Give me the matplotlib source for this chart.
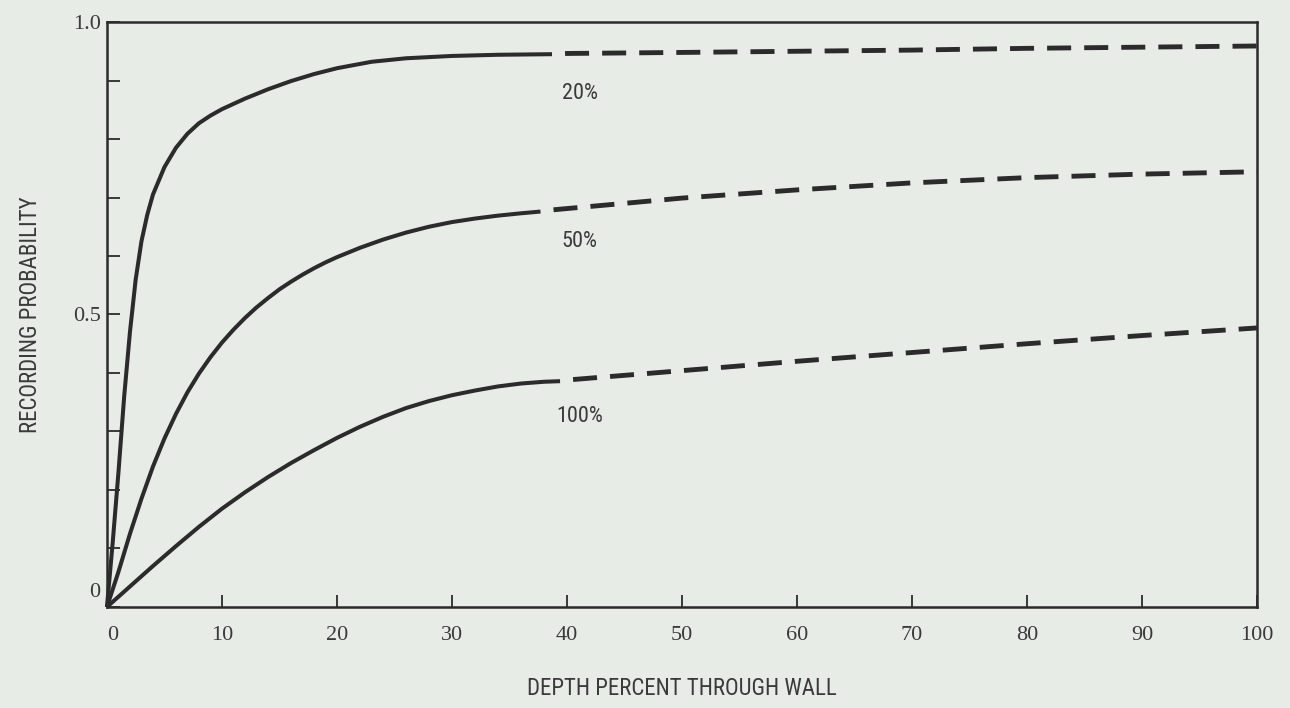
import matplotlib
matplotlib.use("Agg")
import matplotlib.pyplot as plt
from matplotlib.transforms import ScaledTranslation

# ---- data -------------------------------------------------------------
# measured (solid) portion of each curve
x_20 = [0, 0.5, 1.0, 1.5, 2.0, 2.5, 3.0, 3.5, 4.0, 5, 6, 7, 8, 9, 10, 12, 14,
        16, 18, 20, 23, 26, 30, 34, 38.7]
y_20 = [0, 0.11, 0.23, 0.36, 0.47, 0.56, 0.625, 0.67, 0.705, 0.752, 0.785,
        0.809, 0.827, 0.84, 0.851, 0.869, 0.885, 0.899, 0.911, 0.921, 0.932,
        0.938, 0.942, 0.944, 0.945]

x_50 = [0, 1, 2, 3, 4, 5, 6, 7, 8, 9, 10, 11, 12, 13, 14, 15, 16, 17, 18, 19,
        20, 22, 24, 26, 28, 30, 32, 34, 36, 37.7]
y_50 = [0, 0.06, 0.125, 0.185, 0.24, 0.288, 0.33, 0.367, 0.399, 0.427, 0.452,
        0.474, 0.494, 0.512, 0.528, 0.543, 0.556, 0.568, 0.579, 0.589, 0.598,
        0.614, 0.628, 0.64, 0.65, 0.658, 0.664, 0.669, 0.673, 0.676]

x_100 = [0, 2, 4, 6, 8, 10, 12, 14, 16, 18, 20, 22, 24, 26, 28, 30, 32, 34, 36,
         38, 39.4]
y_100 = [0, 0.035, 0.07, 0.104, 0.137, 0.168, 0.196, 0.222, 0.246, 0.268,
         0.289, 0.308, 0.325, 0.34, 0.352, 0.362, 0.37, 0.377, 0.382, 0.385,
         0.386]

# extrapolated (dashed) portion of each curve
xd_20 = [38.7, 50, 60, 70, 80, 90, 100]
yd_20 = [0.946, 0.948, 0.950, 0.952, 0.955, 0.957, 0.959]

xd_50 = [37.7, 45, 50, 60, 70, 80, 90, 100]
yd_50 = [0.677, 0.690, 0.699, 0.713, 0.725, 0.734, 0.740, 0.744]

xd_100 = [39.4, 50, 60, 70, 80, 90, 100]
yd_100 = [0.387, 0.404, 0.420, 0.435, 0.450, 0.464, 0.477]

curve_labels = ["20%", "50%", "100%"]
label_x = [41.1, 41.1, 41.1]
label_y = [0.877, 0.625, 0.325]

x_ticks = [0, 10, 20, 30, 40, 50, 60, 70, 80, 90, 100]
x_ticklabels = ["", "10", "20", "30", "40", "50", "60", "70", "80", "90", "100"]
y_ticks = [0, 0.1, 0.2, 0.3, 0.4, 0.5, 0.6, 0.7, 0.8, 0.9, 1.0]
y_ticklabels = ["", "", "", "", "", "0.5", "", "", "", "", "1.0"]

# ---- style ------------------------------------------------------------
BG = "#e8ece6"
INK = "#2b2b2b"
TXT = "#3a3a3a"
plt.rcParams["lines.scale_dashes"] = False
NARROW = dict(family=["Roboto Condensed", "DejaVu Sans"], stretch="condensed")

fig = plt.figure(figsize=(12.9, 7.08), dpi=100, facecolor=BG)
ax = fig.add_axes([0.0829, 0.1427, 0.8915, 0.8262])
ax.set_facecolor(BG)
ax.set_xlim(0, 100)
ax.set_ylim(0, 1)

for sp in ax.spines.values():
    sp.set_linewidth(1.8)
    sp.set_color(INK)

# ---- curves -----------------------------------------------------------
solid = [(x_20, y_20), (x_50, y_50), (x_100, y_100)]
dashed = [(xd_20, yd_20), (xd_50, yd_50), (xd_100, yd_100)]
for (xs, ys), (xd, yd) in zip(solid, dashed):
    ax.plot(xs, ys, color=INK, lw=2.9, solid_capstyle="butt",
            solid_joinstyle="round", clip_on=False)
    ax.plot(xd, yd, color=INK, lw=3.5, dash_capstyle="butt",
            linestyle=(17.3, (17.3, 9.4)), clip_on=False)

for t, lx, ly in zip(curve_labels, label_x, label_y):
    ax.text(lx, ly, t, ha="center", va="center", fontsize=16, color=TXT,
            **NARROW)

# ---- axes decoration ----------------------------------------------------
serif = {"family": "Liberation Serif", "size": 16}
ax.set_xticks(x_ticks)
ax.set_xticklabels(x_ticklabels, fontdict=serif, color=TXT)
ax.set_yticks(y_ticks)
ax.set_yticklabels(y_ticklabels, fontdict=serif, color=TXT)
ax.tick_params(axis="x", direction="in", length=8.6, width=1.3, color=INK, pad=14)
ax.tick_params(axis="y", direction="in", length=9.6, width=1.3, color=INK, pad=4.5)

# zero labels sit slightly off the origin
ax.text(0, 0, "0", transform=ax.get_xaxis_transform()
        + ScaledTranslation(6 / 100, -14 / 72, fig.dpi_scale_trans),
        ha="center", va="top", color=TXT, fontfamily="Liberation Serif",
        fontsize=16)
ax.text(0, 0, "0", transform=ax.get_yaxis_transform()
        + ScaledTranslation(-4.5 / 72, 14 / 100, fig.dpi_scale_trans),
        ha="right", va="center", color=TXT, fontfamily="Liberation Serif",
        fontsize=16)

ax.set_xlabel("DEPTH PERCENT THROUGH WALL", fontsize=16.5, color=TXT,
              labelpad=23, **NARROW)
ax.set_ylabel("RECORDING PROBABILITY", fontsize=16.5, color=TXT,
              labelpad=22, **NARROW)

fig.savefig("out.png", dpi=100, facecolor=BG)
